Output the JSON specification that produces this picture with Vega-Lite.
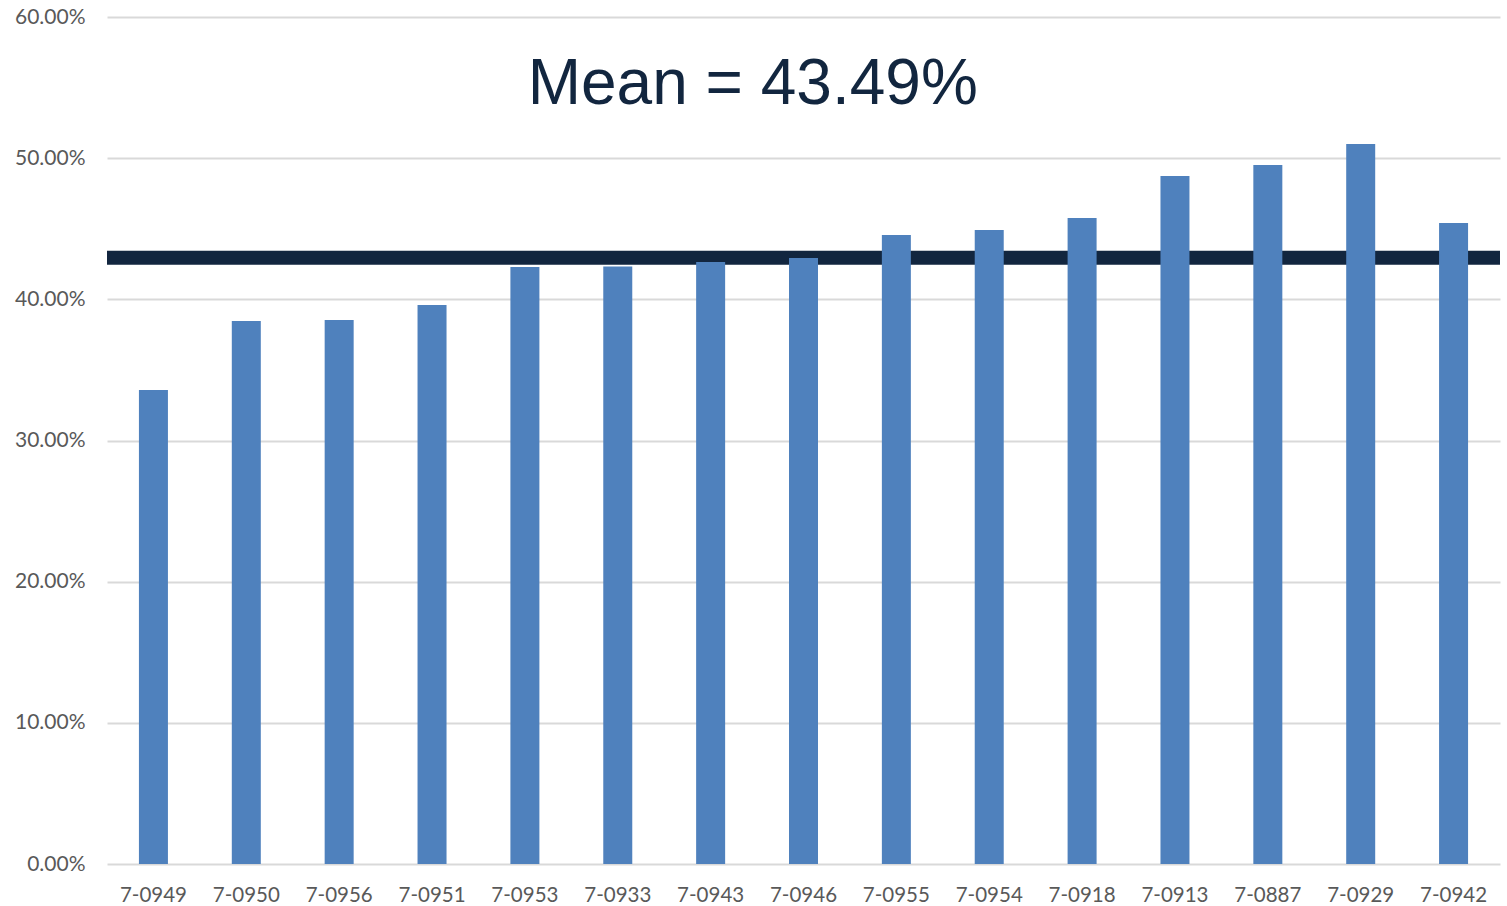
{
  "$schema": "https://vega.github.io/schema/vega-lite/v6.json",
  "width": 1393,
  "height": 847,
  "autosize": "none",
  "padding": {"left": 107, "top": 17, "right": 7, "bottom": 42},
  "background": "white",
  "config": {"view": {"stroke": null}},
  "title": {
    "text": "Mean = 43.49%",
    "font": "Liberation Sans",
    "fontSize": 64,
    "fontWeight": "normal",
    "color": "#12263f",
    "anchor": "middle",
    "frame": "bounds",
    "baseline": "alphabetic",
    "offset": -162,
    "dx": -8
  },
  "datasets": {
    "bars": [
      {"id": "7-0949", "v": 0.3358},
      {"id": "7-0950", "v": 0.3846},
      {"id": "7-0956", "v": 0.3854},
      {"id": "7-0951", "v": 0.3960},
      {"id": "7-0953", "v": 0.4229},
      {"id": "7-0933", "v": 0.4232},
      {"id": "7-0943", "v": 0.4264},
      {"id": "7-0946", "v": 0.4293},
      {"id": "7-0955", "v": 0.4456},
      {"id": "7-0954", "v": 0.4491},
      {"id": "7-0918", "v": 0.4576},
      {"id": "7-0913", "v": 0.4874},
      {"id": "7-0887", "v": 0.4952},
      {"id": "7-0929", "v": 0.5100},
      {"id": "7-0942", "v": 0.4541}
    ],
    "mean": [{"m": 0.4295}]
  },
  "layer": [
    {
      "data": {"name": "mean"},
      "mark": {"type": "rule", "color": "#12263f", "strokeWidth": 14},
      "encoding": {
        "y": {"field": "m", "type": "quantitative", "scale": {"domain": [0, 0.6]}}
      }
    },
    {
      "data": {"name": "bars"},
      "mark": {"type": "bar", "color": "#4f81bd", "size": 29},
      "encoding": {
        "x": {
          "field": "id", "type": "nominal", "sort": null, "title": null,
          "axis": {
            "domain": false, "ticks": false, "labelAngle": 0,
            "labelFont": "Lato", "labelFontSize": 20.5, "labelColor": "#595959",
            "labelPadding": 21
          }
        },
        "y": {
          "field": "v", "type": "quantitative", "title": null,
          "scale": {"domain": [0, 0.6]},
          "axis": {
            "values": [0, 0.1, 0.2, 0.3, 0.4, 0.5, 0.6],
            "format": ".2%", "domain": false, "ticks": false,
            "gridColor": "#d9d9d9", "gridWidth": 2,
            "labelFont": "Lato", "labelFontSize": 21, "labelColor": "#595959",
            "labelPadding": 22
          }
        }
      }
    }
  ]
}
